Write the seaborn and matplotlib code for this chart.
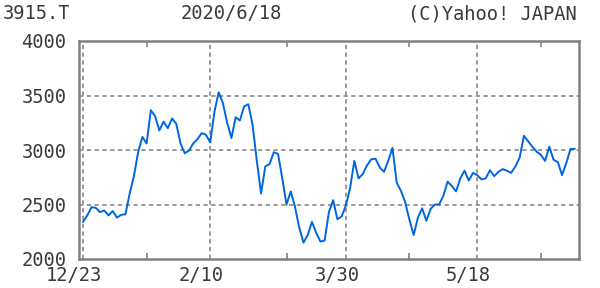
import matplotlib
matplotlib.use("Agg")
import matplotlib.pyplot as plt
from matplotlib.transforms import ScaledTranslation
import seaborn as sns
import pandas as pd

# ---- data (trading-day series, 2019/12/23 .. 2020/6/18) ----
prices = [
    2340, 2400, 2475, 2470, 2430, 2445, 2400, 2440, 2380, 2405,
    2410, 2600, 2760, 2980, 3120, 3060, 3365, 3310, 3180, 3260,
    3200, 3290, 3240, 3060, 2970, 2995, 3060, 3100, 3155, 3140,
    3070, 3350, 3530, 3430, 3250, 3110, 3300, 3270, 3400, 3420,
    3230, 2900, 2600, 2850, 2870, 2980, 2965, 2740, 2500, 2620,
    2480, 2290, 2150, 2220, 2340, 2240, 2160, 2170, 2430, 2540,
    2365, 2390, 2490, 2650, 2900, 2740, 2780, 2860, 2915, 2920,
    2840, 2800, 2900, 3020, 2700, 2625, 2520, 2360, 2220, 2380,
    2465, 2350, 2460, 2500, 2500, 2580, 2710, 2670, 2620, 2740,
    2810, 2720, 2790, 2770, 2730, 2740, 2815, 2760, 2800, 2825,
    2810, 2790, 2850, 2930, 3130, 3080, 3030, 2985, 2955, 2900,
    3030, 2910, 2890, 2770, 2880, 3010, 3010,
]
xtick_days = [0, 30, 62, 93]
xtick_labels = ["12/23", "2/10", "3/30", "5/18"]
minor_days = [15, 48, 77, 108]
yticks = [2000, 2500, 3000, 3500, 4000]
ytick_labels = ["2000", "2500", "3000", "3500", "4000"]
title_left = "3915.T"
title_mid = "2020/6/18"
title_right = "(C)Yahoo! JAPAN"

df = pd.DataFrame({"day": list(range(len(prices))), "price": prices})

sns.set_theme(style="white")
plt.rcParams["font.family"] = ["DejaVu Sans Mono"]
TXT = "#3a3a3a"
GRID = "#999999"
SPINE = "#808080"

fig = plt.figure(figsize=(6.0, 2.88), dpi=100)
ax = fig.add_axes([79 / 600, 29 / 288, 500 / 600, 218 / 288])

sns.lineplot(data=df, x="day", y="price", ax=ax, color="#0066dd",
             linewidth=1.4, zorder=3)

ax.set_xlim(-0.95, 117.0)
ax.set_ylim(2000, 4000)
ax.set_xlabel("")
ax.set_ylabel("")

# grid lines
for v in yticks[1:-1]:
    ax.axhline(v, color=GRID, linewidth=1.4, linestyle=(0, (2.2, 1.8)), zorder=1)
for d in xtick_days:
    ax.axvline(d, color=GRID, linewidth=1.4, linestyle=(0, (2.2, 1.8)), zorder=1)

ax.set_yticks(yticks)
ax.set_yticklabels(ytick_labels)
ax.set_xticks(xtick_days)
ax.set_xticklabels(xtick_labels)
ax.set_xticks(minor_days, minor=True)
ax.tick_params(axis="y", length=0, pad=9, labelsize=13.5, labelcolor=TXT)
ax.tick_params(axis="x", which="major", length=0, pad=5, labelsize=13.5,
               labelcolor=TXT)
ax.tick_params(axis="x", which="minor", direction="in", length=4, width=1.2,
               color=SPINE, top=True, bottom=True)
for lab in ax.get_xticklabels():
    lab.set_transform(lab.get_transform() +
                      ScaledTranslation(-9 / 100, 0, fig.dpi_scale_trans))

for s in ax.spines.values():
    s.set_visible(True)
    s.set_color(SPINE)
    s.set_linewidth(1.8)

fig.text(3 / 600, 1 - 4 / 288, title_left, ha="left", va="top",
         fontsize=13.5, color=TXT)
fig.text(181 / 600, 1 - 4 / 288, title_mid, ha="left", va="top",
         fontsize=13.5, color=TXT)
fig.text(577 / 600, 1 - 4 / 288, title_right, ha="right", va="top",
         fontsize=13.5, color=TXT)

fig.savefig("out.png", dpi=100)
